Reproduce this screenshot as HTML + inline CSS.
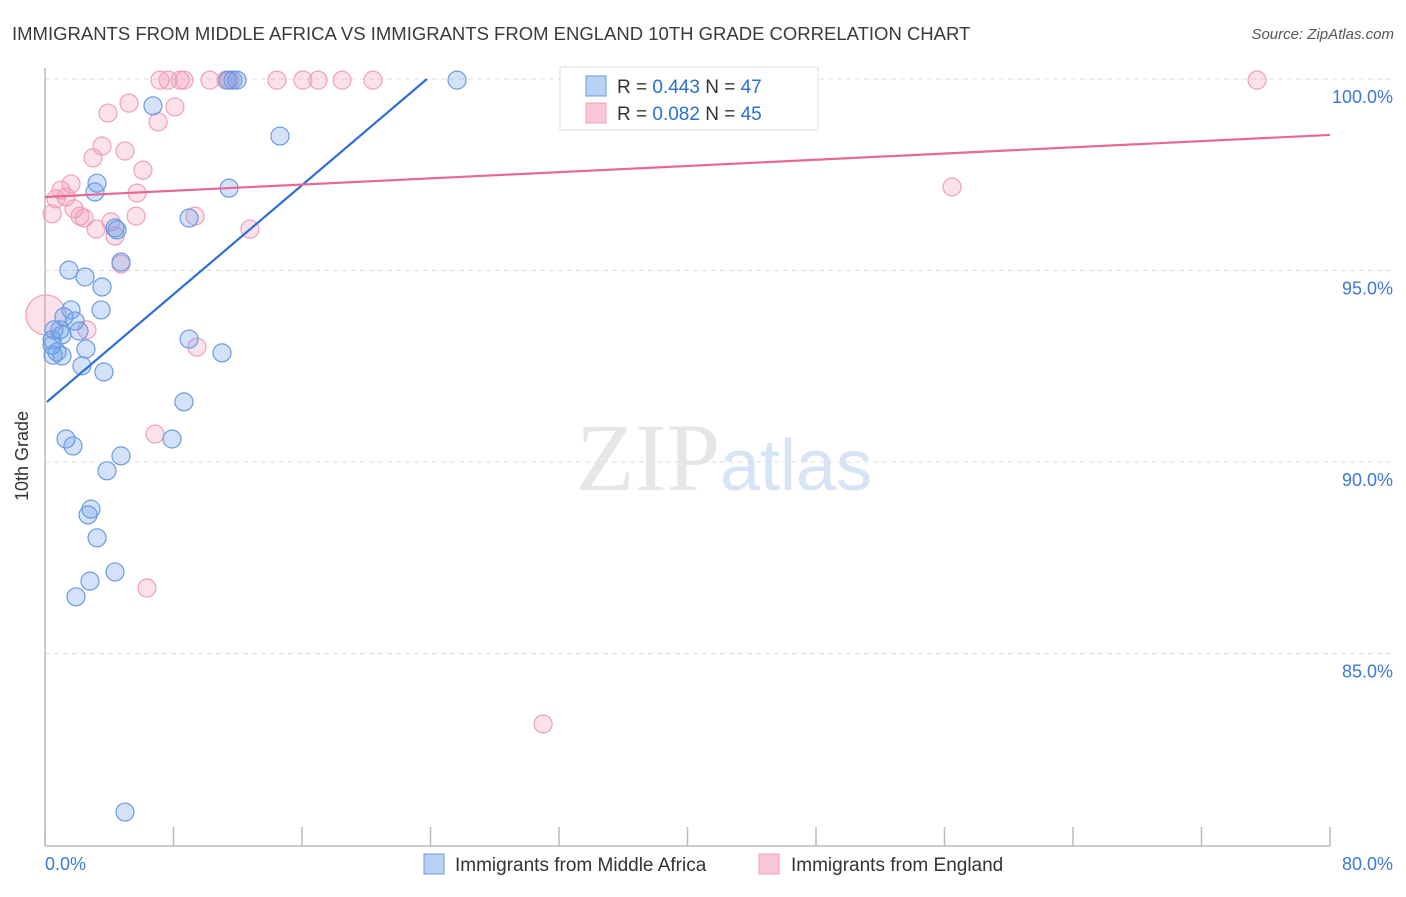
<!DOCTYPE html>
<html><head><meta charset="utf-8"><style>
body{margin:0;background:#fff;font-family:"Liberation Sans",sans-serif}
</style></head><body>
<svg id="chart" width="1406" height="892" viewBox="0 0 1406 892" xmlns="http://www.w3.org/2000/svg">
<text x="12" y="40" font-size="18.5" fill="#3a3a3a">IMMIGRANTS FROM MIDDLE AFRICA VS IMMIGRANTS FROM ENGLAND 10TH GRADE CORRELATION CHART</text>
<text x="1394" y="39" font-size="15" fill="#555" font-style="italic" text-anchor="end">Source: ZipAtlas.com</text>
<text x="720" y="490" font-size="96" fill="#e6e6e6" font-family="Liberation Serif,serif" text-anchor="end">ZIP</text>
<text x="720" y="490" font-size="72" fill="#d6e4f5">atlas</text>
<g id="grid"></g>
<line x1="45" y1="68" x2="45" y2="846" stroke="#bbb" stroke-width="1.5"/>
<line x1="45" y1="846" x2="1330" y2="846" stroke="#bbb" stroke-width="1.5"/>
<g id="xticks"></g>
<text x="28" y="456" font-size="18" fill="#333" text-anchor="middle" transform="rotate(-90 28 456)">10th Grade</text>
<text x="45" y="870" font-size="18" fill="#3b78d8">0.0%</text>
<text x="1393" y="870" font-size="18" fill="#3b78d8" text-anchor="end">80.0%</text>
<g id="points"></g>
<g id="lines"></g>
<g>
<rect x="560" y="67" width="258" height="63" fill="#fff" stroke="#ddd"/>
<rect x="586" y="76" width="20" height="20" fill="#b9d1f3" stroke="#6a9be0"/>
<text x="617" y="93" font-size="19" fill="#333">R = <tspan fill="#2a6fd6">0.443</tspan>   N = <tspan fill="#2a6fd6">47</tspan></text>
<rect x="586" y="103" width="20" height="20" fill="#f9c8d6" stroke="#f0a0b8"/>
<text x="617" y="120" font-size="19" fill="#333">R = <tspan fill="#2a6fd6">0.082</tspan>   N = <tspan fill="#2a6fd6">45</tspan></text>
</g>
<g>
<rect x="424" y="854" width="20" height="20" fill="#b9d1f3" stroke="#6a9be0"/>
<text x="455" y="871" font-size="19" fill="#333">Immigrants from Middle Africa</text>
</g>
<g>
<rect x="759" y="854" width="20" height="20" fill="#f9c8d6" stroke="#f0a0b8"/>
<text x="791" y="871" font-size="19" fill="#333">Immigrants from England</text>
</g>
</svg>
<script>
const yTicks=[100,95,90,85];
const yTickLabels=["100.0%","95.0%","90.0%","85.0%"];
const xTicks=[0,8,16,24,32,40,48,56,64,72,80];
const blueX=[6.72,14.63,3.24,3.11,11.46,8.97,4.36,4.48,4.73,1.49,2.49,3.55,1.62,3.49,1.18,1.87,0.56,2.12,1.06,0.44,2.55,0.75,1.06,0.50,2.30,3.67,8.97,11.02,8.65,1.31,1.74,7.91,4.73,3.86,2.86,2.68,3.24,4.36,2.80,1.93,4.98,25.65,11.70,11.95,11.39,0.44,0.93];
const blueY=[99.30,98.51,97.28,97.05,97.15,96.37,96.11,96.06,95.22,95.01,94.83,94.57,93.97,93.97,93.79,93.68,93.45,93.42,93.32,93.19,92.95,92.87,92.77,92.79,92.51,92.35,93.21,92.85,91.57,90.60,90.42,90.60,90.16,89.77,88.77,88.62,88.02,87.13,86.89,86.48,80.86,99.97,99.97,99.97,99.97,93.05,93.45];
const pinkX=[7.16,7.66,8.41,8.65,10.27,11.27,11.52,14.44,16.06,17.00,18.49,20.42,32.94,75.46,3.92,5.23,8.09,7.04,3.55,4.98,2.99,6.10,1.00,1.62,1.31,0.68,5.73,1.81,2.18,2.43,0.44,5.67,4.11,3.18,4.36,9.34,12.76,4.73,56.47,2.61,9.46,6.85,6.35,31.01,0.06];
const pinkY=[99.97,99.97,99.97,99.97,99.97,99.97,99.97,99.97,99.97,99.97,99.97,99.97,99.97,99.97,99.11,99.37,99.27,98.88,98.25,98.12,97.94,97.62,97.10,97.26,96.92,96.87,97.02,96.61,96.42,96.37,96.48,96.42,96.27,96.08,95.90,96.42,96.08,95.17,97.18,93.45,93.00,90.73,86.71,83.16,93.84];
const pinkSize=[9,9,9,9,9,9,9,9,9,9,9,9,9,9,9,9,9,9,9,9,9,9,9,9,9,9,9,9,9,9,9,9,9,9,9,9,9,9,9,9,9,9,9,9,20];
const blueTrend=[[0.12,91.57],[23.78,100]];
const pinkTrend=[[0,96.92],[80,98.54]];
const NS="http://www.w3.org/2000/svg";
function sx(v){return 45+v/80*1285;}
function sy(v){return 79+(100-v)*38.3;}
function mk(t,a,p){const e=document.createElementNS(NS,t);for(const k in a)e.setAttribute(k,a[k]);p.appendChild(e);return e;}
const grid=document.getElementById('grid');
yTicks.forEach((v,i)=>{
 const l=mk('line',{x1:45,x2:1393,y1:sy(v),y2:sy(v),stroke:'#ddd','stroke-dasharray':'5,4'},grid);
 
 
 const t=mk('text',{x:1393,y:sy(v)+24,'font-size':18,fill:'#3b78d8','text-anchor':'end'},grid);
 t.textContent=yTickLabels[i];
 
 
});
const xt=document.getElementById('xticks');
xTicks.forEach(v=>{
 const l=mk('line',{x1:sx(v),x2:sx(v),y1:827,y2:846,stroke:'#bbb','stroke-width':1.5},xt);
 
 
});
const pts=document.getElementById('points');
pinkX.forEach((x,i)=>{
 const c=mk('circle',{cx:sx(x),cy:sy(pinkY[i]),r:pinkSize[i],fill:'rgba(240,140,170,0.25)',stroke:'#f0a0b8','stroke-width':1.2},pts);
 
 
});
blueX.forEach((x,i)=>{
 const c=mk('circle',{cx:sx(x),cy:sy(blueY[i]),r:9,fill:'rgba(110,160,235,0.3)',stroke:'#6a9be0','stroke-width':1.2},pts);
 
 
});
const ln=document.getElementById('lines');
const bl=mk('line',{x1:sx(blueTrend[0][0]),y1:sy(blueTrend[0][1]),x2:sx(blueTrend[1][0]),y2:sy(blueTrend[1][1]),stroke:'#2a6fd6','stroke-width':2.2},ln);


const pl=mk('line',{x1:sx(pinkTrend[0][0]),y1:sy(pinkTrend[0][1]),x2:sx(pinkTrend[1][0]),y2:sy(pinkTrend[1][1]),stroke:'#e8679a','stroke-width':2.2},ln);


</script>
</body></html>
